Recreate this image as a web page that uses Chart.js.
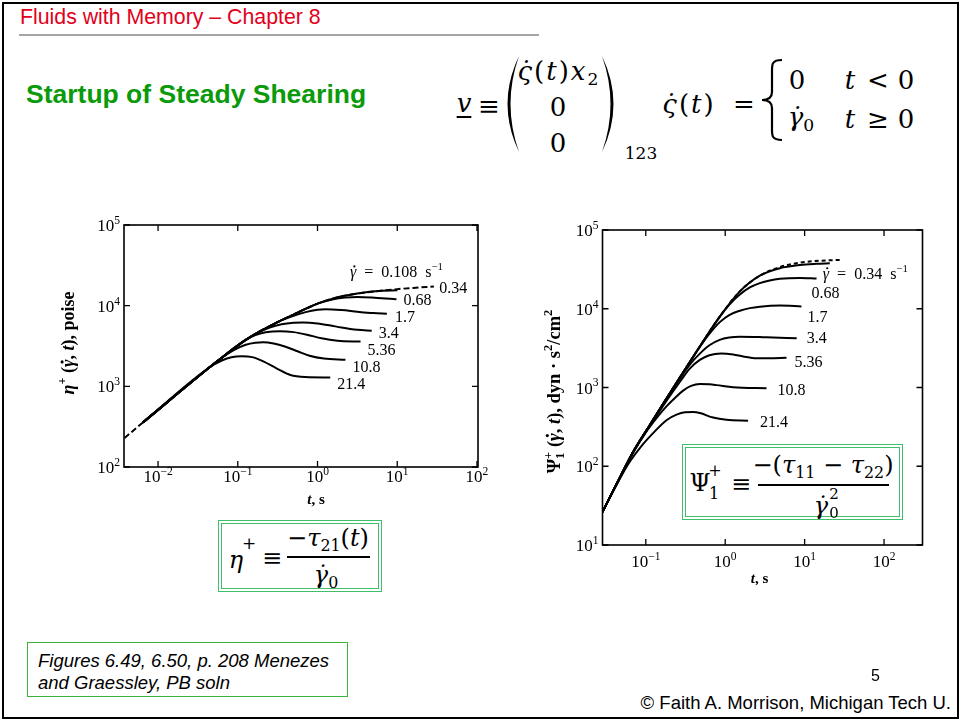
<!DOCTYPE html>
<html><head><meta charset="utf-8">
<script src="https://cdn.jsdelivr.net/npm/chart.js@4.4.1/dist/chart.umd.min.js"></script>
<style>
html,body{margin:0;padding:0;background:#fff;}
body{width:964px;height:721px;position:relative;overflow:hidden;font-family:"Liberation Sans",Arial,sans-serif;}
.abs{position:absolute;white-space:nowrap;line-height:1;}
.c{transform:translate(-50%,-50%);}
.m{font-family:"DejaVu Serif",serif;font-size:24px;color:#000;}
.big{font-size:26px;}
.i{font-style:italic;}
.sb{font-size:0.66em;vertical-align:-0.28em;}
canvas{position:absolute;}
.box{position:absolute;border:4px double #3fbf6e;background:#fff;box-sizing:border-box;}
.bar{position:absolute;height:1.6px;background:#000;}
</style>
</head><body>
<div class="abs" style="left:2px;top:2px;width:953px;height:713px;border:2px solid #000;"></div>
<div class="abs" style="left:20px;top:7px;color:#e2001a;font-size:21.3px;">Fluids with Memory – Chapter 8</div>
<div class="abs" style="left:19px;top:34px;width:520px;height:2px;background:#a5a5a5;"></div>
<div class="abs" style="left:26px;top:80.5px;color:#0a9a0a;font-size:26.5px;font-weight:bold;">Startup of Steady Shearing</div>

<!-- velocity equation -->
<div class="abs c m big i" style="left:464px;top:103px;text-decoration:underline;text-underline-offset:4px;text-decoration-thickness:1.5px;">v</div>
<div class="abs c m big" style="left:489px;top:106px;">≡</div>
<svg class="abs" style="left:0;top:0;" width="964" height="200">
<path d="M519,56 Q496,104 519,152 Q502,104 519,56 Z" fill="#000"/>
<path d="M602,56 Q625,104 602,152 Q619,104 602,56 Z" fill="#000"/>
<path d="M782,60 C771,60 772,65 772,73 L772,92 C772,97 769,100 762,100 C769,100 772,103 772,108 L772,127 C772,135 771,140 782,140" fill="none" stroke="#000" stroke-width="2.2"/>
</svg>
<div class="abs c m big" style="left:559px;top:73px;letter-spacing:2px;"><span class="i">ς̇</span>(<span class="i">t</span>)<span class="i">x</span><span class="sb">2</span></div>
<div class="abs c m big" style="left:558px;top:107px;">0</div>
<div class="abs c m big" style="left:558px;top:143px;">0</div>
<div class="abs c m" style="left:641px;top:153px;font-size:17px;">123</div>
<div class="abs c m big" style="left:689px;top:104px;letter-spacing:2px;"><span class="i">ς̇</span>(<span class="i">t</span>)</div>
<div class="abs c m big" style="left:744px;top:104px;">=</div>
<div class="abs c m big" style="left:797px;top:80px;">0</div>
<div class="abs c m big i" style="left:850px;top:80px;">t</div>
<div class="abs c m big" style="left:878px;top:80px;">&lt;</div>
<div class="abs c m big" style="left:906px;top:80px;">0</div>
<div class="abs c m big" style="left:801px;top:119px;"><span class="i">γ̇</span><span class="sb">0</span></div>
<div class="abs c m big i" style="left:850px;top:119px;">t</div>
<div class="abs c m big" style="left:878px;top:119px;">≥</div>
<div class="abs c m big" style="left:906px;top:119px;">0</div>

<canvas id="c1" width="470" height="300" style="left:30px;top:212px;"></canvas>
<canvas id="c2" width="420" height="370" style="left:520px;top:215px;"></canvas>

<!-- eta box -->
<div class="box" style="left:218px;top:520px;width:164px;height:72px;"></div>
<div class="abs c m i" style="left:236px;top:560px;">η</div>
<div class="abs c m" style="left:249px;top:543px;font-size:17px;">+</div>
<div class="abs c m" style="left:272px;top:558px;">≡</div>
<div class="abs c m" style="left:328px;top:540px;">−<span class="i">τ</span><span class="sb">21</span>(<span class="i">t</span>)</div>
<div class="bar" style="left:287px;top:556px;width:83px;"></div>
<div class="abs c m" style="left:326px;top:577px;"><span class="i">γ̇</span><span class="sb">0</span></div>

<!-- psi box -->
<div class="box" style="left:682px;top:444px;width:221px;height:76px;"></div>
<div class="abs c m" style="left:700px;top:483px;">Ψ</div>
<div class="abs c m" style="left:714px;top:494px;font-size:16px;">1</div>
<div class="abs c m" style="left:715px;top:471px;font-size:16px;">+</div>
<div class="abs c m" style="left:741px;top:484px;">≡</div>
<div class="abs c m" style="left:823px;top:467px;">−(<span class="i">τ</span><span class="sb">11</span> − <span class="i">τ</span><span class="sb">22</span>)</div>
<div class="bar" style="left:758px;top:484px;width:131px;"></div>
<div class="abs c m i" style="left:821px;top:506px;">γ̇</div>
<div class="abs c m" style="left:834px;top:494px;font-size:15px;">2</div>
<div class="abs c m" style="left:834px;top:513px;font-size:15px;">0</div>

<!-- footer -->
<div class="abs" style="left:27px;top:642px;width:321px;height:55px;border:1px solid #3cb43c;box-sizing:border-box;"></div>
<div class="abs" style="left:38px;top:650px;font-size:18.5px;font-style:italic;line-height:22px;">Figures 6.49, 6.50, p. 208 Menezes<br>and Graessley, PB soln</div>
<div class="abs" style="left:871px;top:668px;font-size:16px;">5</div>
<div class="abs" style="right:13px;top:694px;font-size:18.5px;">© Faith A. Morrison, Michigan Tech U.</div>

<script>
// ---------- Left chart: eta+ (poise) vs t (s) ----------
const xTicks1 = [0.01, 0.1, 1, 10, 100];
const yTicks1 = [100, 1000, 10000, 100000];
const t1_21_4 = [0.00646, 0.0447, 0.0631, 0.0832, 0.1122, 0.1514, 0.2089, 0.309, 0.457, 0.708, 1.445];
const eta_21_4 = [356.5, 1734, 2089, 2291, 2355, 2301, 2042, 1660, 1380, 1303, 1288];
const t1_10_8 = [0.00646, 0.0447, 0.0631, 0.0891, 0.1259, 0.166, 0.2089, 0.2818, 0.398, 0.5623, 0.794, 1.202, 2.239];
const eta_10_8 = [356.5, 1734, 2265, 2818, 3273, 3467, 3508, 3388, 3090, 2723, 2399, 2213, 2138];
const t1_5_36 = [0.00646, 0.0447, 0.0631, 0.0891, 0.1259, 0.166, 0.2239, 0.3388, 0.501, 0.741, 1.122, 1.778, 3.467];
const eta_5_36 = [356.5, 1734, 2265, 2951, 3758, 4315, 4677, 4819, 4699, 4365, 3936, 3673, 3589];
const t1_3_4 = [0.00646, 0.0447, 0.0631, 0.0891, 0.1259, 0.1778, 0.2512, 0.3548, 0.501, 0.661, 1.0, 1.413, 1.995, 3.162, 4.786];
const eta_3_4 = [356.5, 1734, 2265, 2951, 3758, 4624, 5370, 5888, 6138, 6194, 6026, 5715, 5346, 5012, 4898];
const t1_1_7 = [0.00646, 0.0447, 0.0631, 0.0891, 0.1259, 0.1778, 0.2512, 0.3548, 0.501, 0.708, 1.0, 1.259, 1.995, 3.162, 5.012, 7.413];
const eta_1_7 = [356.5, 1734, 2265, 2951, 3758, 4624, 5559, 6607, 7499, 8318, 8872, 9016, 8810, 8414, 8091, 7943];
const t1_0_68 = [0.00646, 0.0447, 0.0631, 0.0891, 0.1259, 0.1778, 0.2512, 0.3548, 0.501, 0.708, 1.0, 1.585, 2.239, 3.162, 5.623, 9.772];
const eta_0_68 = [356.5, 1734, 2265, 2951, 3758, 4624, 5559, 6607, 7762, 9120, 10593, 12023, 12589, 12823, 12445, 12023];
const t1_0_34 = [0.00646, 0.0447, 0.0631, 0.0891, 0.1259, 0.1778, 0.2512, 0.3548, 0.501, 0.708, 1.0, 1.585, 3.162, 6.31, 10];
const eta_0_34 = [356.5, 1734, 2265, 2951, 3758, 4624, 5559, 6607, 7762, 9120, 10593, 12303, 14125, 15311, 15488];
const t1_0_108 = [0.0038, 0.00646, 0.0447, 0.0631, 0.0891, 0.1259, 0.1778, 0.2512, 0.3548, 0.501, 0.708, 1.0, 1.585, 3.162, 6.31, 10, 15.85, 28.84];
const eta_0_108 = [229, 356.5, 1734, 2265, 2951, 3758, 4624, 5559, 6607, 7762, 9120, 10593, 12303, 14125, 15311, 16032, 16596, 17298];

// ---------- Right chart: Psi1+ (dyn s^2/cm^2) vs t (s) ----------
const xTicks2 = [0.1, 1, 10, 100];
const yTicks2 = [10, 100, 1000, 10000, 100000];
const t2_21_4 = [0.0285, 0.0447, 0.0631, 0.0871, 0.1236, 0.182, 0.2438, 0.31, 0.398, 0.479, 0.705, 1.038, 1.941];
const psi_21_4 = [26.3, 63.1, 114.8, 177.8, 263, 384.6, 451.9, 484.2, 487.5, 473.2, 415, 389, 378.4];
const t2_10_8 = [0.0285, 0.0447, 0.0692, 0.1, 0.1413, 0.182, 0.2344, 0.2951, 0.3715, 0.479, 0.631, 0.776, 1.259, 3.311];
const psi_10_8 = [26.3, 64.6, 147.9, 269.2, 426.6, 575.4, 741.3, 912, 1047, 1109, 1096, 1072, 1007, 977.2];
const t2_5_36 = [0.0285, 0.0447, 0.0692, 0.112, 0.182, 0.268, 0.358, 0.479, 0.631, 0.891, 1.259, 1.683, 2.477, 3.548, 5.916];
const psi_5_36 = [26.3, 64.6, 151.4, 323.6, 676.1, 1175, 1738, 2239, 2570, 2704, 2630, 2483, 2355, 2355, 2388];
const t2_3_4 = [0.0285, 0.0447, 0.0692, 0.112, 0.182, 0.268, 0.358, 0.479, 0.64, 0.851, 1.122, 1.528, 3.311, 7.943];
const psi_3_4 = [26.3, 64.6, 151.4, 331.1, 716, 1288, 1950, 2692, 3467, 4027, 4315, 4416, 4335, 4217];
const t2_1_7 = [0.0285, 0.0447, 0.0692, 0.112, 0.182, 0.268, 0.479, 0.631, 0.855, 1.122, 1.528, 2.042, 2.729, 4.875, 9.12];
const psi_1_7 = [26.3, 64.6, 151.4, 331.1, 724.4, 1334, 3273, 4786, 6761, 8318, 9441, 10186, 10617, 10965, 10715];
const t2_0_68 = [0.0285, 0.0447, 0.0692, 0.112, 0.182, 0.268, 0.479, 0.855, 1.122, 1.528, 2.042, 2.729, 3.631, 4.875, 8.71, 14.13];
const psi_0_68 = [26.3, 64.6, 151.4, 331.1, 724.4, 1334, 3311, 7943, 11220, 15136, 18621, 21135, 22909, 23988, 24547, 24155];
const t2_0_34 = [0.0285, 0.0447, 0.0692, 0.112, 0.182, 0.268, 0.479, 0.855, 1.528, 2.729, 4.875, 8.71, 14.13, 20.75];
const psi_0_34 = [26.3, 64.6, 151.4, 331.1, 724.4, 1334, 3311, 7943, 16596, 26303, 32734, 35892, 37154, 37757];
const t2_dash = [0.0285, 0.0447, 0.0692, 0.112, 0.182, 0.268, 0.479, 0.855, 1.528, 2.729, 4.875, 8.71, 15.85, 29.17];
const psi_dash = [26.3, 64.6, 151.4, 331.1, 724.4, 1334, 3311, 7943, 16596, 26303, 33884, 38459, 40738, 41687];

const SERIF = '"Liberation Serif", "Times New Roman", serif';
function fontStr(size, it, b) { return (it ? 'italic ' : '') + (b ? 'bold ' : '') + size + 'px ' + SERIF; }
function drawRich(ctx, segs, x, y, size, align, bold) {
  const parts = segs.map(sg => {
    const small = sg.sup || sg.sub;
    const sz = small ? size * 0.68 : size;
    const f = fontStr(sz, sg.it, bold || sg.b);
    ctx.font = f;
    return { t: sg.t, f, sz, w: ctx.measureText(sg.t).width, dy: sg.sup ? -size * 0.42 : (sg.sub ? size * 0.25 : 0), keep: sg.keep, dot: sg.dot };
  });
  let total = 0, pend = 0;
  parts.forEach(p => { if (p.keep) { pend = p.w; } else { total += Math.max(p.w, pend); pend = 0; } });
  let cx = align === 'center' ? x - total / 2 : (align === 'right' ? x - total : x);
  pend = 0;
  parts.forEach(p => {
    ctx.font = p.f;
    ctx.fillText(p.t, cx, y + p.dy);
    if (p.dot) {
      ctx.beginPath();
      ctx.arc(cx + p.w * 0.5 + p.sz * 0.08, y + p.dy - p.sz * 0.66, Math.max(1, p.sz * (bold ? 0.085 : 0.07)), 0, Math.PI * 2);
      ctx.fill();
    }
    if (p.keep) { pend = p.w; } else { cx += Math.max(p.w, pend); pend = 0; }
  });
}
function powSegs(v) {
  const e = Math.round(Math.log10(v));
  return [{ t: '10' }, { t: (e < 0 ? '\u2212' : '') + Math.abs(e), sup: true }];
}

const deco = {
  id: 'deco',
  afterDraw(chart, args, o) {
    const ctx = chart.ctx, a = chart.chartArea, xs = chart.scales.x, ys = chart.scales.y;
    ctx.save();
    ctx.fillStyle = '#000'; ctx.strokeStyle = '#000';
    ctx.textAlign = 'left'; ctx.textBaseline = 'alphabetic';
    ctx.lineWidth = o.frameWidth;
    ctx.strokeRect(a.left, a.top, a.right - a.left, a.bottom - a.top);
    ctx.lineWidth = 1.3;
    ctx.beginPath();
    o.xTicks.forEach(v => {
      const p = xs.getPixelForValue(v);
      ctx.moveTo(p, a.bottom); ctx.lineTo(p, a.bottom - o.tickLen);
      ctx.moveTo(p, a.top); ctx.lineTo(p, a.top + o.tickLen);
    });
    o.yTicks.forEach(v => {
      const p = ys.getPixelForValue(v);
      ctx.moveTo(a.left, p); ctx.lineTo(a.left + o.tickLen, p);
      ctx.moveTo(a.right, p); ctx.lineTo(a.right - o.tickLen, p);
    });
    ctx.stroke();
    o.xTicks.forEach(v => drawRich(ctx, powSegs(v), xs.getPixelForValue(v), a.bottom + o.xLabelDy, o.tickSize, 'center'));
    o.yTicks.forEach(v => drawRich(ctx, powSegs(v), a.left - o.yLabelGap, ys.getPixelForValue(v) + 6, o.tickSize, 'right'));
    chart.data.datasets.forEach((ds, i) => {
      if (!ds.lbl) return;
      const pts = chart.getDatasetMeta(i).data;
      const last = pts[pts.length - 1];
      drawRich(ctx, ds.lbl, last.x + ds.lblOff[0], last.y + ds.lblOff[1] + 5.5, o.lblSize, 'left');
    });
    drawRich(ctx, o.xTitle, (a.left + a.right) / 2 + o.xTitleDx, a.bottom + o.xTitleDy, o.xTitleSize, 'center', true);
    ctx.translate(a.left - o.yTitleDx, (a.top + a.bottom) / 2 + o.yTitleDy);
    ctx.rotate(-Math.PI / 2);
    drawRich(ctx, o.yTitle, 0, 0, o.yTitleSize, 'center', true);
    ctx.restore();
  }
};

function pts(ts, vs) { return ts.map((t, i) => ({ x: t, y: vs[i] })); }
function ds(ts, vs, lbl, off, dash) {
  return { data: pts(ts, vs), borderColor: '#000', borderWidth: 2, borderDash: dash || [], pointRadius: 0,
           cubicInterpolationMode: 'monotone', fill: false, lbl: lbl, lblOff: off };
}
function logAxis(min, max, ticks, fitKey, fitVal) {
  return {
    type: 'logarithmic', min: min, max: max,
    grid: { display: false }, border: { display: false },
    ticks: { display: false },
    afterBuildTicks: s => { s.ticks = ticks.map(v => ({ value: v })); },
    afterFit: s => { s[fitKey] = fitVal; }
  };
}

new Chart(document.getElementById('c1'), {
  type: 'line',
  data: { datasets: [
    ds(t1_0_108, eta_0_108, [{ t: 'γ', it: true, dot: true }, { t: '\u2002=\u20020.108\u2002s' }, { t: '\u22121', sup: true }], [-84, -15], [6, 3]),
    ds(t1_0_34, eta_0_34, [{ t: '0.34' }], [42, -3]),
    ds(t1_0_68, eta_0_68, [{ t: '0.68' }], [7, 0]),
    ds(t1_1_7, eta_1_7, [{ t: '1.7' }], [8, 3]),
    ds(t1_3_4, eta_3_4, [{ t: '3.4' }], [7, 2]),
    ds(t1_5_36, eta_5_36, [{ t: '5.36' }], [7, 8]),
    ds(t1_10_8, eta_10_8, [{ t: '10.8' }], [7, 7]),
    ds(t1_21_4, eta_21_4, [{ t: '21.4' }], [7, 6])
  ] },
  options: {
    responsive: false, animation: false,
    layout: { padding: { top: 13, right: 22, left: 0, bottom: 0 } },
    scales: { x: logAxis(0.00374, 103, xTicks1, 'height', 45), y: logAxis(100, 100000, yTicks1, 'width', 94) },
    plugins: {
      legend: { display: false }, tooltip: { enabled: false },
      deco: { xTicks: xTicks1, yTicks: yTicks1, frameWidth: 1.6, tickLen: 6, tickSize: 17, lblSize: 16,
              xLabelDy: 15, yLabelGap: 4, xTitleSize: 15, yTitleSize: 18,
              xTitle: [{ t: 't', it: true }, { t: ', s' }], xTitleDx: 15, xTitleDy: 37,
              yTitle: [{ t: 'η', it: true }, { t: '+', sup: true }, { t: ' (' }, { t: 'γ', it: true, dot: true }, { t: ', ' }, { t: 't', it: true }, { t: '), poise' }],
              yTitleDx: 50, yTitleDy: -3 }
    }
  },
  plugins: [deco]
});

new Chart(document.getElementById('c2'), {
  type: 'line',
  data: { datasets: [
    ds(t2_dash, psi_dash, null, null, [4, 3]),
    ds(t2_0_34, psi_0_34, [{ t: 'γ', it: true, dot: true }, { t: '\u2002=\u20020.34\u2002s' }, { t: '\u22121', sup: true }], [-7, 10]),
    ds(t2_0_68, psi_0_68, [{ t: '0.68' }], [-5, 14]),
    ds(t2_1_7, psi_1_7, [{ t: '1.7' }], [6, 10]),
    ds(t2_3_4, psi_3_4, [{ t: '3.4' }], [10, -1]),
    ds(t2_5_36, psi_5_36, [{ t: '5.36' }], [8, 4]),
    ds(t2_10_8, psi_10_8, [{ t: '10.8' }], [11, 1]),
    ds(t2_21_4, psi_21_4, [{ t: '21.4' }], [12, 1])
  ] },
  options: {
    responsive: false, animation: false,
    layout: { padding: { top: 15, right: 17.5, left: 0, bottom: 0 } },
    scales: { x: logAxis(0.0285, 305, xTicks2, 'height', 40), y: logAxis(10, 100000, yTicks2, 'width', 82.5) },
    plugins: {
      legend: { display: false }, tooltip: { enabled: false },
      deco: { xTicks: xTicks2, yTicks: yTicks2, frameWidth: 1.6, tickLen: 6, tickSize: 17, lblSize: 16,
              xLabelDy: 22, yLabelGap: 4, xTitleSize: 15, yTitleSize: 18.5,
              xTitle: [{ t: 't', it: true }, { t: ', s' }], xTitleDx: -3, xTitleDy: 38,
              yTitle: [{ t: 'Ψ' }, { t: '1', sub: true, keep: true }, { t: '+', sup: true }, { t: ' (' }, { t: 'γ', it: true, dot: true }, { t: ', ' }, { t: 't', it: true }, { t: '), dyn · s' }, { t: '2', sup: true }, { t: '/cm' }, { t: '2', sup: true }],
              yTitleDx: 43, yTitleDy: 4 }
    }
  },
  plugins: [deco]
});
</script>
</body></html>
